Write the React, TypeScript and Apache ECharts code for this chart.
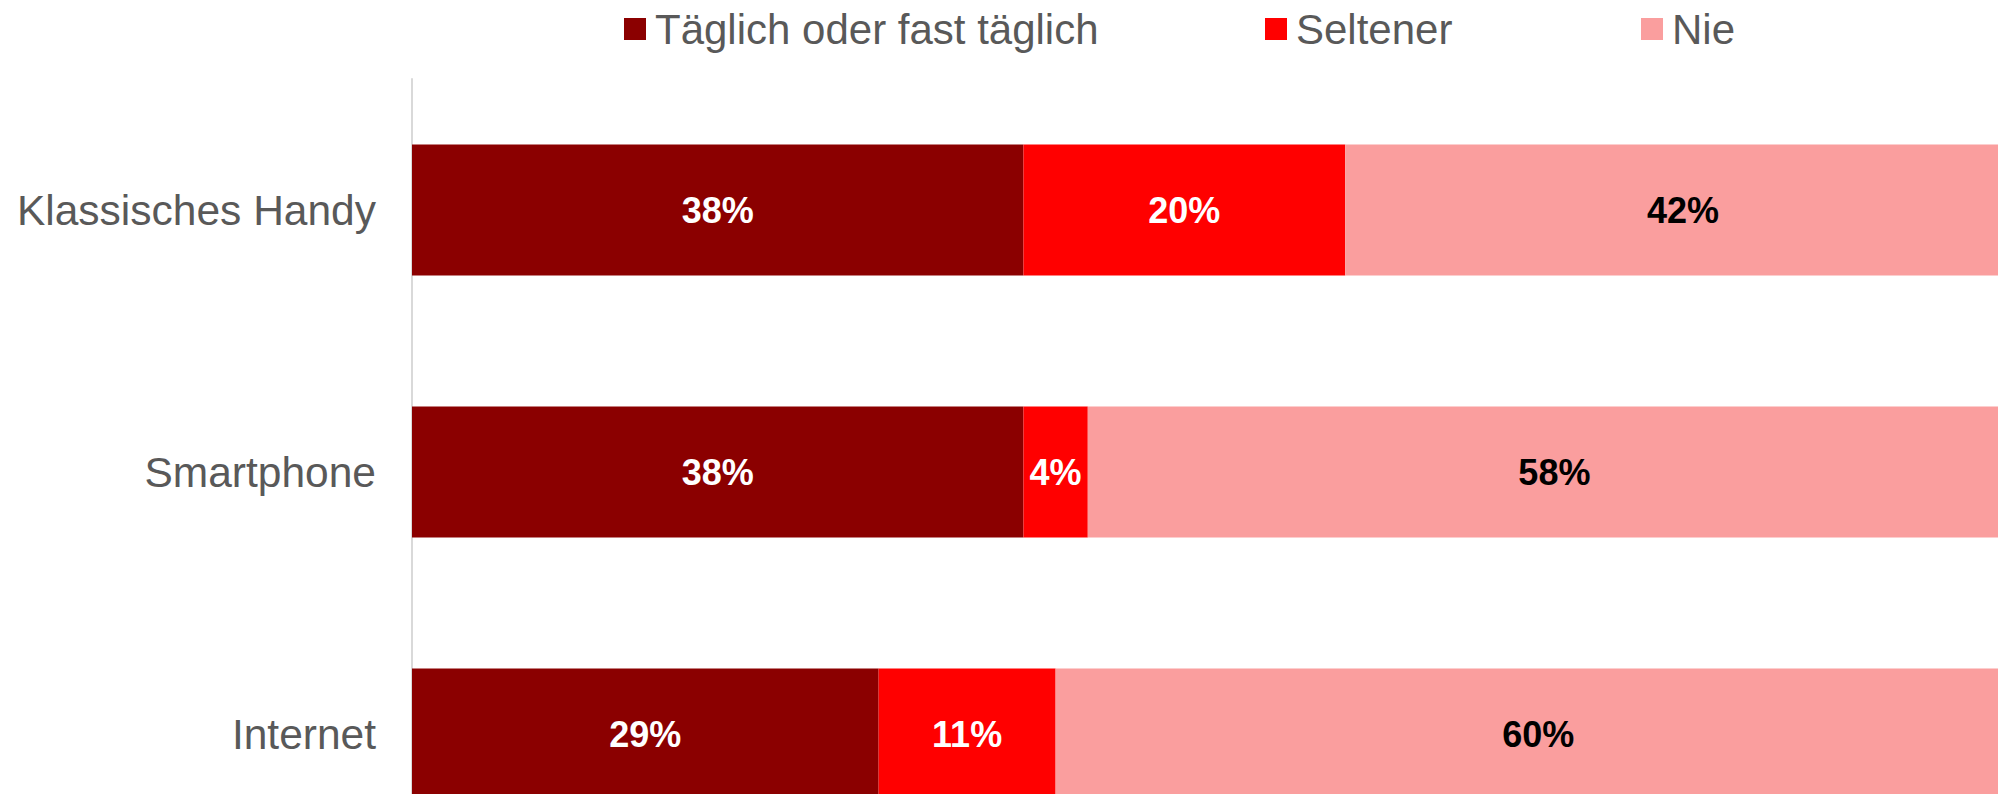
import React, { useEffect, useRef } from "react";
import * as echarts from "echarts";

const categories = ["Klassisches Handy", "Smartphone", "Internet"];
const seriesNames = ["Täglich oder fast täglich", "Seltener", "Nie"];
const daily = [38, 38, 29];
const rarely = [20, 4, 11];
const never = [42, 58, 60];
const colors = ["#8B0000", "#FF0000", "#FA9E9E"];
const labelColors = ["#FFFFFF", "#FFFFFF", "#000000"];
const legendLefts = [619, 1260, 1636];

const FONT = "'Liberation Sans', Arial, sans-serif";

export default function App() {
  const ref = useRef<HTMLDivElement>(null);
  useEffect(() => {
    if (!ref.current) return;
    const chart = echarts.init(ref.current, undefined, { renderer: "svg" });
    const values = [daily, rarely, never];
    chart.setOption({
      animation: false,
      backgroundColor: "#FFFFFF",
      textStyle: { fontFamily: FONT },
      legend: seriesNames.map((name, i) => ({
        data: [name],
        left: legendLefts[i],
        top: 3,
        itemWidth: 22,
        itemHeight: 22,
        icon: "rect",
        textStyle: {
          fontSize: 42,
          color: "#595959",
          fontFamily: FONT,
          padding: [0, 0, 0, 4],
        },
        selectedMode: false,
      })),
      grid: { left: 412, right: 0, top: 79, bottom: 0, containLabel: false },
      xAxis: {
        type: "value",
        min: 0,
        max: 100,
        show: false,
      },
      yAxis: {
        type: "category",
        data: categories,
        inverse: true,
        axisLine: { show: true, lineStyle: { color: "#D9D9D9", width: 2 } },
        axisTick: { show: false },
        axisLabel: {
          fontSize: 42.5,
          color: "#595959",
          margin: 36,
          fontFamily: FONT,
        },
      },
      series: seriesNames.map((name, i) => ({
        name,
        type: "bar",
        stack: "total",
        data: values[i],
        barCategoryGap: "50%",
        itemStyle: { color: colors[i] },
        label: {
          show: true,
          position: "inside",
          formatter: "{c}%",
          color: labelColors[i],
          fontSize: 36,
          fontWeight: "bold",
          fontFamily: FONT,
        },
      })),
    });
    return () => chart.dispose();
  }, []);
  return (
    <div
      ref={ref}
      style={{ position: "fixed", top: 0, left: 0, width: 2021, height: 865 }}
    />
  );
}
